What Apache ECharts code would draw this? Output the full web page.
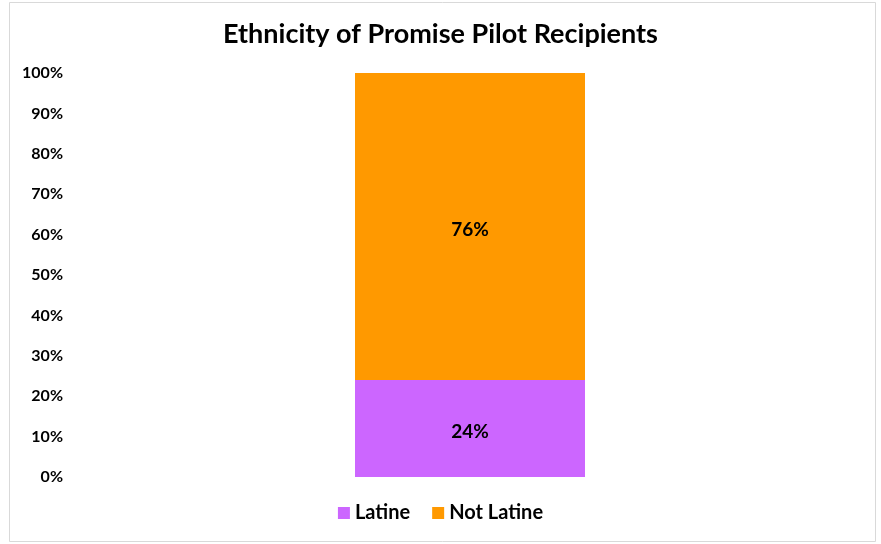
<!DOCTYPE html>
<html>
<head>
<meta charset="utf-8">
<script src="https://cdn.jsdelivr.net/npm/echarts@6/dist/echarts.min.js"></script>
<style>
  html, body { margin: 0; padding: 0; background: #fff; }
  #chart { width: 881px; height: 544px; }
</style>
</head>
<body>
<div id="chart"></div>
<script>
const categories = ['Recipients'];
const seriesNames = ['Latine', 'Not Latine'];
const latine = [24];
const notLatine = [76];
const yTicks = [0, 10, 20, 30, 40, 50, 60, 70, 80, 90, 100];

const chart = echarts.init(document.getElementById('chart'), null, { renderer: 'canvas' });
const font = 'Lato, "Open Sans", sans-serif';

const labelStyle = {
  show: true,
  position: 'inside',
  offset: [0, 3],
  formatter: p => p.value + '%',
  color: '#000',
  fontFamily: font,
  fontWeight: 'bold',
  fontSize: 19
};

const option = {
  backgroundColor: '#fff',
  animation: false,
  graphic: [{
    type: 'rect',
    shape: { x: 9.5, y: 2.5, width: 866, height: 539 },
    style: { fill: 'none', stroke: '#d9d9d9', lineWidth: 1 },
    silent: true
  }],
  title: {
    text: 'Ethnicity of Promise Pilot Recipients',
    left: 'center',
    top: 16,
    textStyle: { fontFamily: font, fontWeight: 'bold', fontSize: 27, color: '#000' }
  },
  legend: {
    data: seriesNames,
    bottom: 16,
    left: 'center',
    itemWidth: 12,
    itemHeight: 12,
    itemGap: 22,
    icon: 'rect',
    textStyle: { fontFamily: font, fontWeight: 'bold', fontSize: 20, color: '#000' }
  },
  grid: { left: 72, right: 13, top: 73, bottom: 67, containLabel: false },
  xAxis: {
    type: 'category',
    data: categories,
    axisLine: { show: false },
    axisTick: { show: false },
    axisLabel: { show: false }
  },
  yAxis: {
    type: 'value',
    min: yTicks[0],
    max: yTicks[yTicks.length - 1],
    interval: 10,
    axisLine: { show: false },
    axisTick: { show: false },
    splitLine: { show: false },
    axisLabel: {
      formatter: '{value}%',
      margin: 9,
      fontFamily: font,
      fontWeight: 'bold',
      fontSize: 16,
      color: '#000'
    }
  },
  series: [
    {
      name: seriesNames[0],
      type: 'bar',
      stack: 'total',
      data: latine,
      barWidth: 230,
      itemStyle: { color: '#CC66FF' },
      label: labelStyle
    },
    {
      name: seriesNames[1],
      type: 'bar',
      stack: 'total',
      data: notLatine,
      barWidth: 230,
      itemStyle: { color: '#FF9900' },
      label: labelStyle
    }
  ]
};

chart.setOption(option);
</script>
</body>
</html>
